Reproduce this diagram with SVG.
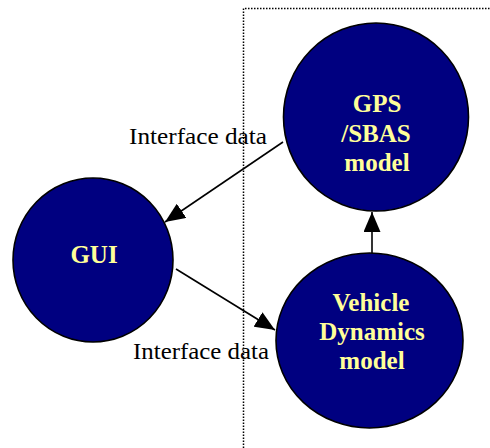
<svg xmlns="http://www.w3.org/2000/svg" width="490" height="448" viewBox="0 0 490 448">
<style>
.node{fill:#000080;stroke:#000;stroke-width:1.6}
.nt{font-family:"Liberation Serif","Times New Roman",serif;font-weight:bold;font-size:25px;fill:#FFFF99;text-anchor:middle}
.lbl{font-family:"Liberation Serif","Times New Roman",serif;font-size:23px;fill:#000}
.conn{stroke:#000;stroke-width:1.6;fill:none}
.frame{stroke:#000;stroke-width:1.5;stroke-dasharray:1.5 1.5;fill:none}
</style>
<defs>
<marker id="ah" viewBox="0 0 20 17" refX="20" refY="8.5" markerWidth="20" markerHeight="17" markerUnits="userSpaceOnUse" orient="auto">
<path d="M0,0 L20,8.5 L0,17 z" fill="#000"/>
</marker>
</defs>
<path class="frame" d="M243.5,448 L243.5,8.5 L490,8.5"/>
<g id="gps">
<ellipse class="node" cx="376" cy="117" rx="92.5" ry="94"/>
<text class="nt" x="377" y="112">GPS</text>
<text class="nt" x="376" y="142">/SBAS</text>
<text class="nt" x="377" y="171">model</text>
</g>
<g id="gui">
<ellipse class="node" cx="93" cy="260" rx="80" ry="82"/>
<text class="nt" x="94" y="263">GUI</text>
</g>
<g id="vehicle">
<ellipse class="node" cx="369.5" cy="340.5" rx="93.5" ry="87.5"/>
<text class="nt" x="371" y="311">Vehicle</text>
<text class="nt" x="372" y="340">Dynamics</text>
<text class="nt" x="372" y="369">model</text>
</g>
<g id="connectors">
<line class="conn" x1="283" y1="142" x2="165" y2="222" marker-end="url(#ah)"/>
<line class="conn" x1="176" y1="269" x2="275" y2="330" marker-end="url(#ah)"/>
<line class="conn" x1="372" y1="253" x2="372" y2="212" marker-end="url(#ah)"/>
<text class="lbl" x="129" y="144" textLength="138" lengthAdjust="spacingAndGlyphs">Interface data</text>
<text class="lbl" x="133" y="359" textLength="136" lengthAdjust="spacingAndGlyphs">Interface data</text>
</g>
</svg>
